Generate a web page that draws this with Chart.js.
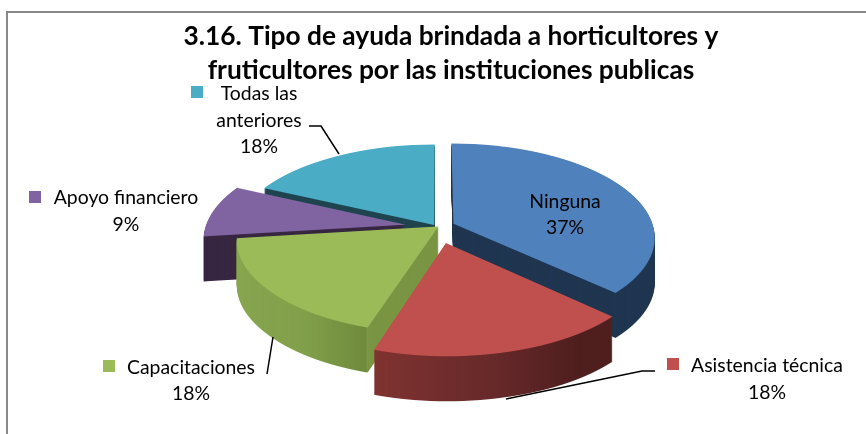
<!DOCTYPE html>
<html><head><meta charset="utf-8">
<style>html,body{margin:0;padding:0;background:#fff}canvas{display:block}</style>
<script src="https://cdn.jsdelivr.net/npm/chart.js@4"></script>
</head><body><canvas id="c" width="866" height="434"></canvas>
<script>
const titleLines = ['3.16. Tipo de ayuda brindada a horticultores y', 'fruticultores por las instituciones publicas'];
const categories = ['Ninguna', 'Asistencia técnica', 'Capacitaciones', 'Apoyo financiero', 'Todas las anteriores'];
const values = [37, 18, 18, 9, 18];
const topColors = ['#4f81bd', '#c0504d', '#9bbb59', '#8064a2', '#4bacc6'];
const wallStops = [
  [[0, '#1f3550'], [1, '#1f3550']],
  [[0, '#7f3330'], [0.35, '#7f3330'], [0.6, '#67292a'], [0.78, '#4f1f1e'], [1, '#4e1f1d']],
  [[0, '#88a64f'], [0.2, '#82a04b'], [0.34, '#6f8b3d'], [0.345, '#7a9543'], [1, '#7a9543']],
  [[0, '#372640'], [1, '#372640']],
  [[0, '#1f444f'], [1, '#1f444f']]
];
const explode = [18, 35, -2, 32, 5];
const drawOrder = [4, 3, 0, 2, 1];
const view = {cx: 437, cy: 227, radius: 200, g: 0.462, k: 0.0007, depth: 45};
const font = '19.4px Lato';
const textBlocks = [
  {lines: [['Ninguna', 565, 202], ['37%', 565, 228]]},
  {lines: [['Asistencia técnica', 767, 366], ['18%', 767, 393]], key: [667, 358]},
  {lines: [['Capacitaciones', 191, 368], ['18%', 191, 394]], key: [103, 360]},
  {lines: [['Apoyo financiero', 126, 198], ['9%', 126, 225]], key: [29, 191]},
  {lines: [['Todas las', 259, 94], ['anteriores', 259, 121], ['18%', 259, 147]], key: [191, 86]}
];
const leaders = [
  [[309, 126], [321, 126], [339, 154]],
  [[267, 374], [273, 337]],
  [[655, 371], [642, 371], [506, 399]]
];

function warpSlice(arc, idx, fillOf) {
  const off = document.createElement('canvas');
  off.width = 866; off.height = 434;
  const c = off.getContext('2d');
  const proxy = Object.create(arc);
  proxy.options = Object.assign({}, arc.options, {backgroundColor: fillOf(c, arc)});
  const mid = (arc.startAngle + arc.endAngle) / 2;
  const ou = Math.cos(mid) * explode[idx], ov = Math.sin(mid) * explode[idx];
  const vOf = dy => dy / (view.g + view.k * dy);
  for (let y = 100; y < 420; y++) {
    const dy = y + 0.5 - view.cy;
    const v = vOf(dy);
    if (1 - view.k * v <= 0) continue;
    const s = 1 / (1 - view.k * v);
    const my = 1 / (vOf(dy + 0.5) - vOf(dy - 0.5));
    c.save();
    c.beginPath(); c.rect(0, y, 866, 1); c.clip();
    c.setTransform(s, 0, 0, my, view.cx + s * (ou - arc.x), y + 0.5 - my * (arc.y + v - ov));
    proxy.draw(c);
    c.restore();
  }
  return off;
}

const pseudo3d = {
  id: 'pseudo3d',
  beforeDraw(chart) {
    const c = chart.ctx;
    c.save();
    c.fillStyle = '#fff'; c.fillRect(0, 0, 866, 434);
    c.strokeStyle = '#888'; c.lineWidth = 2;
    c.strokeRect(7, 12, 1000, 1000);
    c.restore();
  },
  beforeDatasetDraw(chart, args) {
    const c = chart.ctx;
    const arcs = chart.getDatasetMeta(args.index).data;
    drawOrder.forEach(i => {
      const arc = arcs[i];
      const wall = warpSlice(arc, i, (o, a) => {
        const g = o.createLinearGradient(a.x - view.radius, 0, a.x + view.radius, 0);
        wallStops[i].forEach(st => g.addColorStop(st[0], st[1]));
        return g;
      });
      const top = warpSlice(arc, i, () => topColors[i]);
      for (let t = view.depth; t >= 1; t--) c.drawImage(wall, 0, t);
      c.drawImage(top, 0, 0);
    });
    return false;
  },
  afterDraw(chart) {
    const c = chart.ctx;
    c.save();
    c.strokeStyle = '#000'; c.lineWidth = 1.5;
    leaders.forEach(p => {
      c.beginPath();
      p.forEach((q, j) => j ? c.lineTo(q[0], q[1]) : c.moveTo(q[0], q[1]));
      c.stroke();
    });
    c.font = font; c.fillStyle = '#000'; c.textAlign = 'center'; c.textBaseline = 'middle';
    textBlocks.forEach((b, i) => {
      b.lines.forEach(l => c.fillText(l[0], l[1], l[2]));
      if (b.key) { c.fillStyle = topColors[i]; c.fillRect(b.key[0], b.key[1], 12, 12); c.fillStyle = '#000'; }
    });
    c.restore();
  }
};

new Chart(document.getElementById('c'), {
  type: 'pie',
  data: {labels: categories, datasets: [{data: values, backgroundColor: topColors, borderWidth: 0}]},
  options: {
    responsive: false, animation: false, events: [],
    radius: view.radius,
    layout: {padding: {left: 36, top: 0}},
    plugins: {
      legend: {display: false}, tooltip: {enabled: false},
      title: {display: true, text: titleLines, color: '#000',
        font: {family: 'Lato', size: 26.3, weight: 'bold', lineHeight: 1.3}, padding: {top: 19, bottom: 4}}
    }
  },
  plugins: [pseudo3d]
});
</script></body></html>
